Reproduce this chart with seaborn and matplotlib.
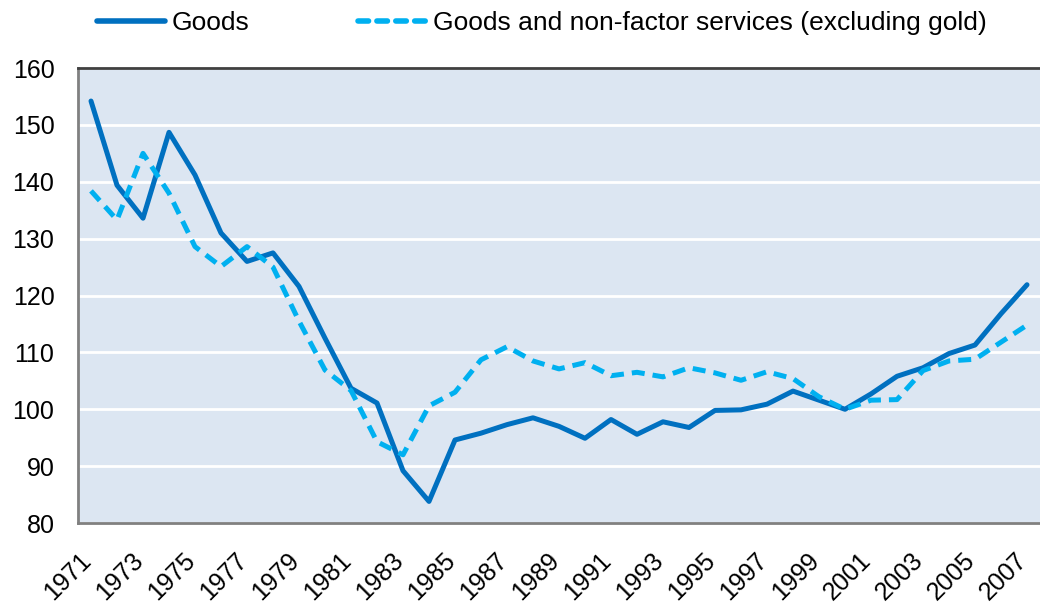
import numpy as np
import pandas as pd
import matplotlib
matplotlib.use("Agg")
import matplotlib.pyplot as plt
import matplotlib.transforms as mtransforms
import seaborn as sns

years = list(range(1971, 2008))

goods = [154.2, 139.4, 133.6, 148.7, 141.2, 131.0, 126.0, 127.5, 121.6, 112.5,
         103.7, 101.1, 89.2, 83.8, 94.6, 95.8, 97.3, 98.5, 97.0, 94.9,
         98.2, 95.6, 97.8, 96.8, 99.8, 99.9, 100.9, 103.2, 101.6, 100.0,
         102.7, 105.8, 107.3, 109.8, 111.3, 116.8, 121.9]

goods_services = [138.4, 133.3, 145.0, 138.0, 128.6, 125.1, 128.6, 125.0, 115.5, 106.9,
                  103.3, 94.3, 92.0, 100.6, 103.0, 108.7, 111.0, 108.5, 107.1, 108.2,
                  105.9, 106.5, 105.7, 107.3, 106.4, 105.1, 106.6, 105.4, 102.2, 100.0,
                  101.6, 101.7, 106.8, 108.5, 108.8, 111.8, 114.8]

series_names = ["Goods", "Goods and non-factor services (excluding gold)"]
colors = ["#0070C0", "#00B0F0"]

df = pd.DataFrame({"year": years, series_names[0]: goods, series_names[1]: goods_services})
long = df.melt(id_vars="year", var_name="series", value_name="value")

sns.set_style("white")
plt.rcParams["font.family"] = ["Liberation Sans", "DejaVu Sans"]
plt.rcParams["text.color"] = "black"
plt.rcParams["xtick.color"] = "black"
plt.rcParams["ytick.color"] = "black"

fig = plt.figure(figsize=(10.4, 6.05), dpi=100)
ax = fig.add_axes([0.075, 0.1355, 0.925, 0.752])
ax.set_facecolor("#DCE6F2")

sns.lineplot(data=long, x="year", y="value", hue="series", style="series",
             palette=colors, dashes={series_names[0]: "", series_names[1]: (2.6, 1.6)},
             linewidth=3.6, ax=ax, legend=False)

ax.set_xlim(1970.5, 2007.5)
ax.set_ylim(80, 160)
ax.set_yticks(range(80, 161, 10))
ax.yaxis.grid(True, color="white", linewidth=2)
ax.set_axisbelow(True)

ax.set_xticks(years[::2])
ax.set_xticklabels([str(y) for y in years[::2]], rotation=45, ha="right",
                   rotation_mode="anchor")
ax.set_xticks(np.arange(1970.5, 2008, 1), minor=True)
ax.tick_params(axis="x", which="major", length=0, pad=14, labelsize=18)
ax.tick_params(axis="x", which="minor", direction="in", length=6, width=1.5, color="#808080")
ax.tick_params(axis="y", length=0, pad=17, labelsize=18)

# nudge the rotated year labels so their tips sit under each point
shift = mtransforms.ScaledTranslation(-0.12, -0.06, fig.dpi_scale_trans)
for lbl in ax.get_xticklabels():
    lbl.set_transform(lbl.get_transform() + shift)

ax.set_xlabel("")
ax.set_ylabel("")
for side in ["left", "bottom"]:
    ax.spines[side].set_color("#808080")
    ax.spines[side].set_linewidth(2)
ax.spines["top"].set_color("#404040")
ax.spines["top"].set_linewidth(2)
ax.spines["right"].set_visible(False)

handles = [plt.Line2D([], [], color=colors[0], linewidth=4, solid_capstyle="round"),
           plt.Line2D([], [], color=colors[1], linewidth=4, linestyle=(0, (1.9, 1.5)),
                      dash_capstyle="round")]
fig.legend(handles, series_names, loc="center left", bbox_to_anchor=(0.07, 0.962),
           ncol=2, frameon=False, fontsize=19, handlelength=2.6, handletextpad=0.25,
           columnspacing=4.1)

fig.savefig("out.png", dpi=100)
